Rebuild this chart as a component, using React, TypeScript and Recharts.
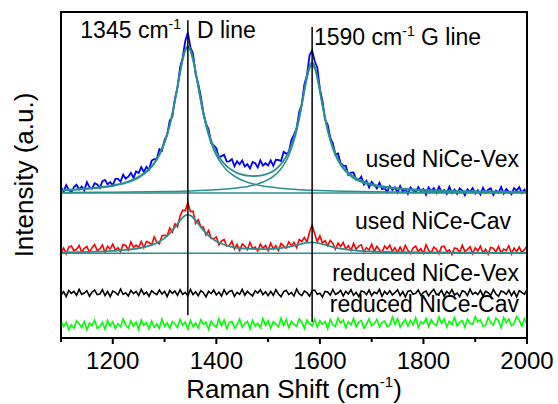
import React from 'react';
import { LineChart, Line, XAxis, YAxis, ReferenceLine } from 'recharts';

const FONT = "'Liberation Sans', Arial, Helvetica, sans-serif";
const TEAL = '#2b8f8f';

const CHART_W = 558;
const CHART_H = 404;
const MARGIN = { top: 12, right: 31, bottom: 36, left: 61 };
const X_AXIS_H = 30;

// Raman shift sampling of the measured spectra (cm-1)
const SHIFT_START = 1100;
const SHIFT_STEP = 5;

// Measured spectra (a.u., offset stacked)
const usedVexIntensity = [
  46.3, 44.9, 46.9, 45.5, 44.7, 46.3, 47.0, 45.6, 46.5, 45.3,
  47.8, 46.3, 45.8, 47.5, 47.1, 46.0, 48.1, 48.5, 47.1, 47.8,
  46.8, 48.8, 48.8, 48.0, 50.1, 48.9, 49.5, 50.7, 49.1, 51.1,
  50.6, 52.4, 50.9, 52.5, 51.6, 54.4, 54.9, 54.9, 57.9, 57.4,
  60.7, 62.3, 66.7, 67.8, 73.4, 76.8, 83.0, 86.0, 91.1, 93.7,
  89.2, 87.2, 81.0, 78.0, 74.1, 68.9, 65.8, 64.0, 59.8, 59.1,
  58.2, 55.4, 55.8, 56.2, 54.1, 54.2, 54.9, 52.7, 54.2, 53.3,
  54.5, 52.6, 53.3, 52.0, 54.0, 53.6, 52.3, 54.5, 52.9, 53.6,
  52.9, 54.5, 52.8, 54.7, 54.6, 54.3, 57.1, 56.5, 57.1, 60.7,
  62.4, 64.3, 69.3, 71.6, 77.8, 80.6, 86.7, 88.2, 84.9, 82.9,
  76.4, 72.7, 67.0, 65.5, 61.5, 59.7, 56.3, 56.6, 53.6, 52.9,
  52.8, 50.0, 50.7, 50.8, 48.6, 48.5, 49.5, 47.1, 48.2, 46.2,
  47.9, 47.0, 45.9, 47.6, 45.7, 46.0, 44.8, 46.6, 45.4, 46.2,
  44.6, 46.6, 44.8, 45.7, 44.2, 46.2, 45.3, 44.7, 46.3, 45.0,
  45.7, 44.0, 46.2, 45.1, 46.0, 44.5, 46.4, 44.8, 45.4, 44.2,
  46.4, 44.5, 45.5, 44.2, 45.9, 45.2, 43.8, 45.6, 44.8, 46.0,
  44.3, 45.3, 44.0, 46.1, 44.5, 45.5, 45.9, 43.9, 45.2, 44.6,
  46.3, 44.3, 45.7, 44.8, 44.1, 46.0, 45.2, 46.3, 44.5, 45.5,
  44.2,
];

const usedCavIntensity = [
  26.2, 27.6, 25.8, 27.9, 28.2, 26.8, 27.2, 28.4, 26.4, 27.5,
  28.1, 26.3, 27.7, 28.7, 26.8, 27.3, 28.5, 26.3, 28.1, 27.3,
  28.8, 26.9, 27.7, 26.5, 28.7, 28.4, 27.0, 29.5, 27.8, 28.5,
  27.8, 29.6, 27.7, 29.6, 29.3, 28.6, 31.0, 29.4, 28.9, 31.4,
  31.5, 31.3, 33.7, 32.5, 35.0, 34.1, 37.4, 39.2, 39.1, 41.5,
  38.8, 38.9, 35.1, 36.3, 34.2, 34.0, 31.6, 33.0, 30.5, 30.5,
  31.0, 28.6, 29.7, 30.2, 28.2, 28.4, 29.7, 27.3, 28.7, 26.8,
  28.8, 28.2, 27.1, 29.3, 27.4, 27.9, 26.7, 28.8, 27.5, 28.4,
  26.8, 29.1, 27.3, 28.3, 26.8, 29.0, 28.2, 27.6, 29.5, 28.3,
  29.3, 27.7, 30.2, 29.6, 30.8, 29.4, 32.5, 34.6, 32.0, 29.6,
  31.3, 29.1, 29.9, 28.3, 29.9, 29.0, 27.2, 29.1, 28.1, 29.3,
  27.3, 28.3, 26.8, 29.0, 27.2, 28.2, 28.6, 26.4, 27.7, 27.0,
  28.8, 26.5, 28.1, 27.0, 26.2, 28.2, 27.3, 28.5, 26.6, 27.7,
  26.2, 27.9, 26.3, 28.4, 26.9, 25.9, 27.6, 28.2, 26.5, 27.4,
  26.0, 28.6, 26.9, 26.1, 27.9, 27.2, 25.9, 28.0, 28.2, 26.5,
  27.0, 25.6, 27.6, 27.4, 26.3, 28.4, 26.6, 27.1, 28.0, 25.9,
  27.7, 26.7, 28.2, 26.1, 27.2, 25.7, 27.8, 27.5, 26.4, 28.1,
  26.0, 27.3, 26.8, 28.3, 25.8, 27.6, 26.5, 27.9, 26.2, 27.1,
  28.2,
];

const reducedVexIntensity = [
  13.2, 14.2, 12.7, 14.6, 13.7, 14.3, 13.1, 14.9, 13.4, 13.8,
  14.5, 12.8, 14.1, 14.7, 13.3, 13.5, 14.8, 13.0, 14.3, 12.7,
  14.4, 14.0, 13.2, 15.0, 13.4, 13.9, 12.9, 14.6, 13.6, 14.3,
  13.0, 14.9, 13.4, 14.1, 12.8, 14.5, 13.8, 13.3, 14.7, 13.5,
  14.3, 12.7, 14.6, 13.7, 14.4, 13.1, 14.8, 13.4, 14.0, 12.9,
  14.9, 13.3, 14.2, 13.0, 14.5, 13.9, 12.6, 14.3, 13.6, 14.7,
  13.2, 14.1, 12.9, 14.8, 13.4, 14.3, 14.6, 12.8, 14.0, 13.4,
  14.9, 13.1, 14.3, 13.5, 12.9, 14.5, 13.8, 14.8, 13.3, 14.2,
  13.0,
  14.3, 13.1, 14.8, 13.5, 12.7, 14.2, 14.6, 13.3, 14.0, 12.9,
  15.0, 13.6, 13.0, 14.4, 13.9, 12.8, 14.5, 14.7, 13.4, 13.7,
  12.6, 14.3, 14.1, 13.2, 14.9, 13.4, 13.8, 14.6, 12.9, 14.3,
  13.5, 14.8, 13.1, 14.0, 12.7, 14.4, 14.2, 13.3, 14.7, 13.0,
  14.1, 13.6, 14.9, 12.8, 14.3, 13.4, 14.5, 13.2, 13.9, 14.8,
  13.0, 14.2, 12.6, 14.3, 14.6, 13.4, 13.7, 14.7, 13.1, 14.0,
  14.4, 12.9, 14.1, 14.9, 13.3, 13.6, 14.6, 12.8, 14.3, 13.5,
  14.8, 13.2, 13.8, 12.7, 14.5, 14.2, 13.0, 15.0, 13.4, 14.0,
  13.3, 14.6, 12.9, 14.3, 13.9, 13.1, 14.9, 13.5, 12.8, 14.4,
  14.1, 13.4, 14.7, 13.0, 14.3, 12.6, 14.5, 14.0, 13.4, 14.8,
];

const reducedCavIntensity = [
  5.2, 3.5, 4.8, 2.6, 4.0, 3.0, 5.3, 4.4, 3.2, 5.0, 2.5,
  4.6, 3.8, 5.5, 2.9, 3.5, 4.8, 2.7, 5.4, 3.7, 5.0,
  2.9, 4.4, 3.4, 5.8, 4.0, 3.1, 5.3, 3.6, 4.9, 2.6,
  5.5, 3.9, 4.7, 2.8, 5.2, 3.3, 4.3, 3.0, 5.8, 3.6,
  4.6, 3.0, 5.0, 4.3, 3.2, 5.7, 3.9, 4.9, 2.7, 5.4,
  3.5, 4.6, 3.1, 5.6, 4.2, 4.8, 2.6, 5.2, 4.0, 3.4,
  5.9, 3.7, 5.5, 2.9, 4.7, 5.1, 3.1, 4.0, 5.8, 3.3,
  4.4, 5.1, 2.8, 5.4, 3.6, 4.5, 3.2, 6.0, 3.9, 5.3,
  3.0, 5.0, 4.2, 3.4, 6.1, 3.8, 5.6, 3.2, 5.1, 4.1,
  3.6, 5.9, 4.9, 2.9, 5.5, 4.4, 3.7, 5.8, 3.3, 5.3,
  4.3, 5.1, 2.9, 5.7, 4.0, 3.5, 6.1, 4.6, 5.5, 3.1,
  5.0, 4.0, 6.0, 3.4, 4.9, 5.4, 3.0, 4.2, 5.9, 3.7,
  4.4, 5.7, 3.4, 4.8, 5.2, 3.5, 3.9, 6.4, 4.2, 5.9,
  3.3, 4.6, 5.7, 3.7, 5.4, 4.1, 6.2, 3.2, 5.0, 4.4,
  6.0, 3.5, 5.6, 4.3, 3.9, 6.4, 4.5, 5.8, 3.4, 5.2,
  4.1, 6.2, 3.7, 4.9, 5.4, 3.3, 5.8, 4.5, 4.2, 6.5,
  5.0, 5.6, 3.6, 3.9, 6.3, 4.8, 4.0, 6.1, 5.2, 3.2,
  6.3, 4.7, 5.8, 3.8, 4.5, 6.6, 5.4, 3.6, 6.0, 4.2,
];

// Lorentzian fits
const vexFitShift = [
  1100, 1125, 1150, 1175, 1200, 1225, 1250, 1270, 1280, 1290,
  1300, 1310, 1320, 1325, 1330, 1335, 1340, 1345, 1350, 1355,
  1360, 1365, 1370, 1380, 1390, 1400, 1410, 1420, 1430, 1440,
  1450, 1460, 1470, 1480, 1490, 1500, 1510, 1520, 1530, 1540,
  1550, 1555, 1560, 1565, 1570, 1575, 1580, 1585, 1590, 1595,
  1600, 1605, 1610, 1620, 1630, 1640, 1650, 1660, 1670, 1680,
  1700, 1720, 1750, 1800, 1850, 1900, 1950, 2000,
];
const vexFitSum = [
  45.41, 45.60, 45.86, 46.25, 46.85, 47.76, 49.45, 51.82, 53.69, 56.39,
  60.17, 65.53, 72.91, 77.25, 81.68, 85.67, 88.51, 89.56, 88.56, 85.76,
  81.82, 77.44, 73.15, 65.87, 60.61, 56.96, 54.45, 52.71, 51.51, 50.67,
  50.12, 49.79, 49.66, 49.72, 49.97, 50.46, 51.26, 52.49, 54.36, 57.20,
  61.55, 64.48, 67.98, 72.02, 76.34, 80.40, 83.40, 84.50, 83.34, 80.27,
  76.14, 71.75, 67.65, 61.07, 56.57, 53.56, 51.51, 50.07, 49.04, 48.26,
  47.22, 46.57, 45.96, 45.44, 45.16, 45.00, 44.91, 44.84,
];

const vexDShift = [
  1100, 1150, 1200, 1225, 1250, 1270, 1280, 1290, 1300, 1310,
  1320, 1325, 1330, 1335, 1340, 1345, 1350, 1355, 1360, 1365,
  1370, 1380, 1390, 1400, 1410, 1420, 1430, 1440, 1450, 1460,
  1470, 1480, 1490, 1500, 1520, 1540, 1560, 1580, 1600, 1650,
  1700, 1800, 1900, 2000,
];
const vexDBand = [
  45.27, 45.70, 46.63, 47.54, 49.16, 51.54, 53.40, 56.02, 59.76, 65.10,
  72.45, 76.77, 81.18, 85.15, 87.97, 89.00, 87.97, 85.15, 81.18, 76.77,
  72.45, 65.10, 59.76, 56.02, 53.40, 51.54, 50.18, 49.16, 48.39, 47.79,
  47.32, 46.94, 46.63, 46.37, 45.98, 45.70, 45.49, 45.33, 45.21, 45.00,
  44.87, 44.73, 44.65, 44.61,
];

const vexGShift = [
  1100, 1200, 1300, 1350, 1400, 1420, 1440, 1450, 1460, 1470,
  1480, 1490, 1500, 1510, 1520, 1530, 1540, 1550, 1555, 1560,
  1565, 1570, 1575, 1580, 1585, 1590, 1595, 1600, 1605, 1610,
  1620, 1630, 1640, 1650, 1660, 1670, 1680, 1700, 1720, 1750,
  1800, 1850, 1900, 1950, 2000,
];
const vexGBand = [
  44.64, 44.72, 44.91, 45.09, 45.44, 45.67, 46.01, 46.23, 46.50, 46.84,
  47.28, 47.84, 48.59, 49.60, 51.01, 53.03, 56.00, 60.46, 63.44, 66.99,
  71.07, 75.43, 79.53, 82.57, 83.70, 82.57, 79.53, 75.43, 71.07, 66.99,
  60.46, 56.00, 53.03, 51.01, 49.60, 48.59, 47.84, 46.84, 46.23, 45.67,
  45.20, 44.96, 44.83, 44.75, 44.69,
];

const cavFitShift = [
  1100, 1150, 1200, 1225, 1250, 1265, 1280, 1290, 1300, 1310,
  1320, 1330, 1335, 1340, 1345, 1350, 1355, 1360, 1370, 1380,
  1390, 1400, 1410, 1420, 1440, 1460, 1480, 1500, 1520, 1540,
  1555, 1565, 1575, 1585, 1595, 1605, 1615, 1630, 1650, 1670,
  1700, 1750, 1800, 1900, 2000,
];
const cavFitSum = [
  26.28, 26.42, 26.72, 27.02, 27.53, 28.03, 28.82, 29.58, 30.65, 32.10,
  33.98, 36.06, 36.95, 37.58, 37.80, 37.58, 36.97, 36.08, 34.01, 32.15,
  30.71, 29.66, 28.91, 28.37, 27.68, 27.40, 27.26, 27.28, 27.48, 27.94,
  28.48, 28.89, 29.23, 29.36, 29.19, 28.82, 28.36, 27.74, 27.17, 26.83,
  26.54, 26.33, 26.22, 26.14, 26.10,
];

const baselineShift = [1100, 2000];
const vexBaseline = [44.5, 44.5];
const cavBaseline = [26.0, 26.0];

// Band positions marked in the figure
const dBandShift = 1345;
const gBandShift = 1585;
const dMarkerRange = [7.0, 97.5];
const gMarkerRange = [4.9, 95.4];

const X_DOMAIN: [number, number] = [1100, 2000];
const Y_DOMAIN: [number, number] = [0, 100];
const xTicks = [1100, 1200, 1300, 1400, 1500, 1600, 1700, 1800, 1900, 2000];
const xMajorTicks = [1200, 1400, 1600, 1800, 2000];

const shiftGrid = usedVexIntensity.map((_, i) => SHIFT_START + i * SHIFT_STEP);
const toPoints = (xs: number[], ys: number[]) => xs.map((x, i) => ({ x, y: ys[i] }));
const gridPoints = (ys: number[]) => toPoints(shiftGrid, ys);

const PLOT = {
  x: MARGIN.left,
  y: MARGIN.top,
  w: CHART_W - MARGIN.left - MARGIN.right,
  h: CHART_H - MARGIN.top - MARGIN.bottom - X_AXIS_H,
};

const XTick = (props: any) => {
  const { x, y, payload } = props;
  const major = xMajorTicks.includes(payload.value);
  return (
    <g>
      <line x1={x} x2={x} y1={y} y2={y + (major ? 6 : 4)} stroke="#000" strokeWidth={2} />
      {major && (
        <text x={x} y={y + 31} textAnchor="middle" fontSize={24} fontFamily={FONT} fill="#000">
          {payload.value}
        </text>
      )}
    </g>
  );
};

const txt = { fontFamily: FONT, fill: '#000' } as const;

export default function App() {
  return (
    <div style={{ position: 'absolute', left: 0, top: 0, width: CHART_W, height: CHART_H, background: '#fff' }}>
      <LineChart width={CHART_W} height={CHART_H} margin={MARGIN}>
        <XAxis
          dataKey="x"
          type="number"
          domain={X_DOMAIN}
          ticks={xTicks}
          interval={0}
          height={X_AXIS_H}
          tickLine={false}
          tickSize={0}
          tickMargin={0}
          tick={<XTick />}
          axisLine={{ stroke: '#000', strokeWidth: 2 }}
        />
        <YAxis type="number" domain={Y_DOMAIN} hide />

        <Line data={gridPoints(reducedCavIntensity)} dataKey="y" type="linear" stroke="#00ff00" strokeWidth={1.6} dot={false} isAnimationActive={false} />
        <Line data={gridPoints(reducedVexIntensity)} dataKey="y" type="linear" stroke="#000000" strokeWidth={1.6} dot={false} isAnimationActive={false} />
        <Line data={gridPoints(usedCavIntensity)} dataKey="y" type="linear" stroke="#ff0000" strokeWidth={1.6} dot={false} isAnimationActive={false} />
        <Line data={gridPoints(usedVexIntensity)} dataKey="y" type="linear" stroke="#0000ff" strokeWidth={1.8} dot={false} isAnimationActive={false} />

        <Line data={toPoints(baselineShift, vexBaseline)} dataKey="y" type="linear" stroke={TEAL} strokeWidth={1.5} dot={false} isAnimationActive={false} />
        <Line data={toPoints(vexDShift, vexDBand)} dataKey="y" type="monotone" stroke={TEAL} strokeWidth={1.5} dot={false} isAnimationActive={false} />
        <Line data={toPoints(vexGShift, vexGBand)} dataKey="y" type="monotone" stroke={TEAL} strokeWidth={1.5} dot={false} isAnimationActive={false} />
        <Line data={toPoints(vexFitShift, vexFitSum)} dataKey="y" type="monotone" stroke={TEAL} strokeWidth={1.8} dot={false} isAnimationActive={false} />

        <Line data={toPoints(baselineShift, cavBaseline)} dataKey="y" type="linear" stroke={TEAL} strokeWidth={1.5} dot={false} isAnimationActive={false} />
        <Line data={toPoints(cavFitShift, cavFitSum)} dataKey="y" type="monotone" stroke={TEAL} strokeWidth={1.8} dot={false} isAnimationActive={false} />

        <ReferenceLine
          segment={[{ x: dBandShift, y: dMarkerRange[0] }, { x: dBandShift, y: dMarkerRange[1] }]}
          stroke="#000"
          strokeWidth={1.5}
        />
        <ReferenceLine
          segment={[{ x: gBandShift, y: gMarkerRange[0] }, { x: gBandShift, y: gMarkerRange[1] }]}
          stroke="#000"
          strokeWidth={1.5}
        />

        <text x={181} y={38} textAnchor="end" fontSize={23} {...txt}>
          1345 cm<tspan fontSize={14} dy={-9}>-1</tspan>
        </text>
        <text x={197} y={38} fontSize={23} {...txt}>D line</text>
        <text x={314} y={45} fontSize={23} {...txt}>
          1590 cm<tspan fontSize={14} dy={-9}>-1</tspan>
          <tspan dy={9}> G line</tspan>
        </text>

        <text x={519} y={167} textAnchor="end" fontSize={23} {...txt}>used NiCe-Vex</text>
        <text x={511} y={229} textAnchor="end" fontSize={23} {...txt}>used NiCe-Cav</text>
        <text x={519} y={281} textAnchor="end" fontSize={23} {...txt}>reduced NiCe-Vex</text>
        <text x={519} y={312} textAnchor="end" fontSize={23} {...txt}>reduced NiCe-Cav</text>

        <text x={294} y={398} textAnchor="middle" fontSize={26} {...txt}>
          Raman Shift (cm<tspan fontSize={15} dy={-11}>-1</tspan>
          <tspan dy={11}>)</tspan>
        </text>
        <text x={33} y={175} textAnchor="middle" fontSize={26} transform="rotate(-90, 33, 175)" {...txt}>
          Intensity (a.u.)
        </text>
      </LineChart>
      {/* axis box frame */}
      <div
        style={{
          position: 'absolute',
          left: PLOT.x - 1,
          top: PLOT.y - 1,
          width: PLOT.w + 2,
          height: PLOT.h + 2,
          border: '2px solid #000',
          boxSizing: 'border-box',
          pointerEvents: 'none',
        }}
      />
    </div>
  );
}
